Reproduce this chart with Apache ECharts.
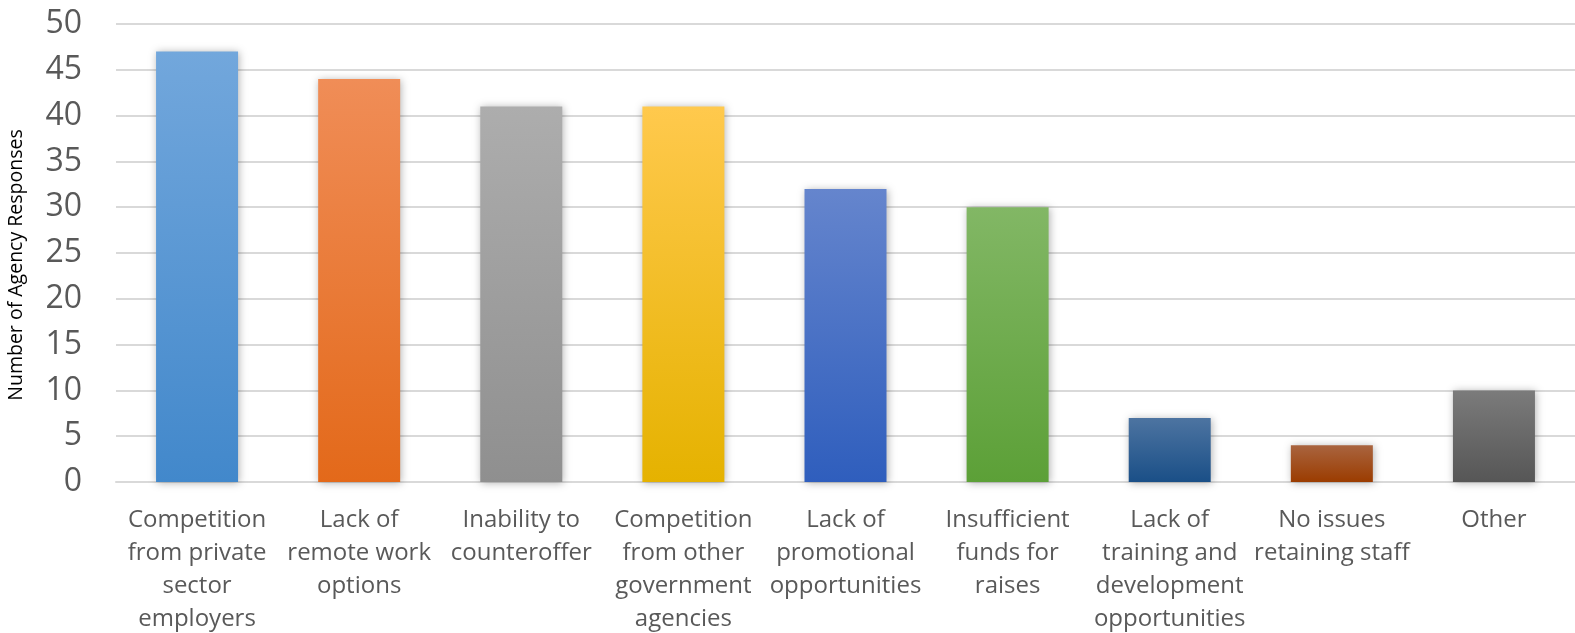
<!DOCTYPE html>
<html>
<head>
<meta charset="utf-8">
<script src="https://cdn.jsdelivr.net/npm/echarts@6/dist/echarts.min.js"></script>
<style>html,body{margin:0;padding:0;background:#fff;}#c{width:1575px;height:633px;}</style>
</head>
<body>
<div id="c"></div>
<script>
const categories = [
  "Competition\nfrom private\nsector\nemployers",
  "Lack of\nremote work\noptions",
  "Inability to\ncounteroffer",
  "Competition\nfrom other\ngovernment\nagencies",
  "Lack of\npromotional\nopportunities",
  "Insufficient\nfunds for\nraises",
  "Lack of\ntraining and\ndevelopment\nopportunities",
  "No issues\nretaining staff",
  "Other"
];
const values = [47, 44, 41, 41, 32, 30, 7, 4, 10];
const yTicks = [0, 5, 10, 15, 20, 25, 30, 35, 40, 45, 50];
const yAxisTitle = "Number of Agency Responses";

const topColors = ["#72a7dc", "#f08d57", "#adadad", "#ffc94d", "#6585cd", "#82b765", "#4d74a1", "#a9643f", "#7b7b7b"];
const bottomColors = ["#4288cb", "#e3691a", "#8f8f8f", "#e5b200", "#2f5ebd", "#5ca037", "#1a4f87", "#9b3c00", "#565656"];

const chart = echarts.init(document.getElementById('c'), null, {renderer: 'canvas'});
const font = "'Open Sans', 'Liberation Sans', sans-serif";
chart.setOption({
  animation: false,
  grid: {left: 116, right: 0, top: 24, bottom: 151, containLabel: false, outerBoundsMode: 'none'},
  xAxis: {
    type: 'category',
    data: categories,
    axisTick: {show: false},
    axisLine: {lineStyle: {color: '#d9d9d9', width: 2}},
    axisLabel: {color: '#595959', fontSize: 24, fontFamily: font, lineHeight: 33, margin: 22, interval: 0}
  },
  yAxis: {
    type: 'value',
    min: yTicks[0],
    max: yTicks[yTicks.length - 1],
    interval: 5,
    name: yAxisTitle,
    nameLocation: 'middle',
    nameGap: 90,
    nameTextStyle: {color: '#000', fontSize: 19.5, fontFamily: font, padding: [0, 24, 0, 0]},
    axisLine: {show: false},
    axisTick: {show: false},
    splitLine: {lineStyle: {color: '#d9d9d9', width: 2}},
    axisLabel: {color: '#595959', fontSize: 32, fontFamily: font, margin: 34}
  },
  series: [{
    type: 'bar',
    barWidth: 82,
    data: values.map((v, i) => ({
      value: v,
      itemStyle: {
        color: new echarts.graphic.LinearGradient(0, 0, 0, 1, [
          {offset: 0, color: topColors[i]},
          {offset: 1, color: bottomColors[i]}
        ]),
        shadowBlur: 8,
        shadowColor: 'rgba(0,0,0,0.3)',
        shadowOffsetX: 1,
        shadowOffsetY: 1
      }
    }))
  }]
});
</script>
</body>
</html>
